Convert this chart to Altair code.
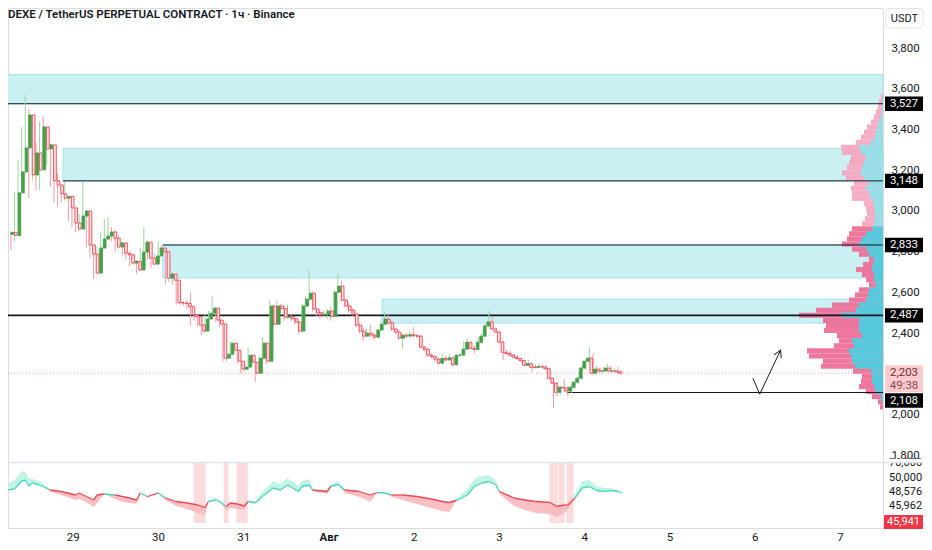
import altair as alt
import pandas as pd

TITLE = "DEXE / TetherUS PERPETUAL CONTRACT · 1ч · Binance"
CURRENCY = "USDT"
COUNTDOWN = "49:38"
FONT = "Roboto"

# hourly candles; index 0 = 28 Jul 07:00 (17 h before 29 Jul 00:00)
FIRST_OPEN = 2885
FIRST_HOUR = -17
closes = [2895, 2880, 3089, 3192, 3310, 3472, 3177, 3285, 3202, 3413,
          3305, 3325, 3148, 3128, 3084, 3063, 3072, 3015, 2941, 2911,
          2975, 3000, 2833, 2788, 2695, 2818, 2862, 2877, 2897, 2866,
          2823, 2843, 2793, 2785, 2744, 2752, 2710, 2798, 2847, 2769,
          2739, 2779, 2818, 2800, 2670, 2690, 2660, 2550, 2548, 2545,
          2530, 2490, 2480, 2440, 2410, 2469, 2498, 2523, 2464, 2444,
          2277, 2296, 2350, 2316, 2262, 2223, 2233, 2291, 2257, 2203,
          2277, 2350, 2262, 2533, 2444, 2533, 2520, 2478, 2482, 2470,
          2454, 2410, 2533, 2567, 2596, 2518, 2500, 2490, 2493, 2508,
          2483, 2601, 2631, 2562, 2533, 2513, 2493, 2439, 2410, 2385,
          2400, 2390, 2380, 2415, 2444, 2469, 2450, 2420, 2405, 2375,
          2390, 2385, 2392, 2387, 2385, 2331, 2320, 2292, 2285, 2272,
          2252, 2275, 2268, 2278, 2245, 2291, 2292, 2321, 2355, 2325,
          2320, 2355, 2385, 2435, 2455, 2420, 2405, 2356, 2306, 2300,
          2292, 2282, 2275, 2265, 2242, 2250, 2232, 2231, 2236, 2234,
          2225, 2178, 2154, 2109, 2134, 2130, 2115, 2134, 2159, 2178,
          2228, 2262, 2277, 2203, 2223, 2213, 2214, 2228, 2213, 2214,
          2210, 2203]
highs = [3138, 2900, 3095, 3250, 3413, 3571, 3500, 3300, 3335, 3440,
         3463, 3364, 3330, 3200, 3187, 3090, 3143, 3075, 3020, 2945,
         2985, 3143, 3005, 2840, 2795, 2825, 2900, 2960, 2970, 2920,
         2905, 2880, 2850, 2810, 2790, 2770, 2760, 2820, 2920, 2855,
         2775, 2790, 2850, 2835, 2810, 2700, 2700, 2670, 2560, 2555,
         2560, 2600, 2500, 2490, 2445, 2490, 2510, 2580, 2530, 2470,
         2450, 2310, 2360, 2352, 2320, 2265, 2245, 2330, 2295, 2260,
         2285, 2380, 2355, 2560, 2540, 2560, 2545, 2535, 2540, 2495,
         2480, 2460, 2545, 2580, 2710, 2605, 2525, 2510, 2510, 2520,
         2530, 2610, 2695, 2660, 2570, 2550, 2520, 2500, 2450, 2425,
         2420, 2440, 2400, 2420, 2460, 2503, 2490, 2460, 2425, 2415,
         2400, 2400, 2410, 2430, 2395, 2390, 2340, 2325, 2300, 2290,
         2280, 2300, 2290, 2300, 2285, 2300, 2300, 2360, 2375, 2360,
         2340, 2380, 2395, 2445, 2510, 2480, 2425, 2410, 2360, 2320,
         2310, 2300, 2290, 2280, 2270, 2270, 2255, 2245, 2250, 2245,
         2240, 2230, 2180, 2160, 2140, 2175, 2140, 2145, 2165, 2185,
         2240, 2265, 2331, 2300, 2240, 2230, 2235, 2250, 2240, 2225,
         2235, 2215]
lows = [2870, 2808, 2850, 3080, 3180, 3300, 3064, 3150, 3103, 3100,
        3290, 3226, 3120, 3040, 3020, 3040, 3050, 2950, 2920, 2895,
        2905, 2970, 2820, 2770, 2665, 2690, 2815, 2855, 2875, 2850,
        2800, 2815, 2780, 2760, 2730, 2735, 2690, 2705, 2790, 2760,
        2720, 2735, 2775, 2790, 2640, 2650, 2640, 2540, 2540, 2535,
        2520, 2440, 2460, 2430, 2390, 2400, 2460, 2490, 2455, 2430,
        2260, 2260, 2290, 2300, 2250, 2200, 2215, 2225, 2245, 2159,
        2200, 2270, 2250, 2255, 2430, 2440, 2500, 2460, 2470, 2460,
        2440, 2395, 2400, 2530, 2560, 2505, 2480, 2470, 2480, 2470,
        2460, 2480, 2595, 2555, 2525, 2500, 2485, 2430, 2400, 2360,
        2380, 2380, 2370, 2375, 2410, 2440, 2440, 2410, 2395, 2370,
        2326, 2375, 2380, 2380, 2375, 2325, 2310, 2285, 2275, 2260,
        2245, 2250, 2262, 2265, 2235, 2240, 2285, 2290, 2320, 2320,
        2300, 2315, 2350, 2380, 2430, 2415, 2400, 2350, 2267, 2295,
        2285, 2275, 2270, 2255, 2236, 2240, 2210, 2225, 2228, 2228,
        2220, 2170, 2031, 2090, 2100, 2110, 2090, 2105, 2125, 2150,
        2170, 2220, 2255, 2195, 2195, 2205, 2205, 2210, 2205, 2205,
        2200, 2195]

day_labels = ["29", "30", "31", "Авг", "2", "3", "4", "5", "6", "7"]

# supply / demand zones (hours from 29 Jul 00:00, prices)
zone_start = [-17.5, -1.5, 26.3, 87.3]
zone_low = [3527, 3148, 2671, 2449]
zone_high = [3670, 3308, 2833, 2567]

level_price = [3527, 3148, 2833, 2487, 2108]
level_start = [-17.5, -1.5, 26.3, -17.5, 138.7]

# drawn arrow
arrow_hour = [190.5, 192.4, 198.2]
arrow_price = [2178, 2100, 2316]

# volume profile rows (25 USDT bins starting at 2025)
vp_total = [3, 5, 11, 17, 24, 22, 21, 30, 62, 60, 74, 76, 49, 44, 46, 59, 57, 60,
            84, 67, 51, 34, 28, 24, 14, 17, 21, 27, 20, 14, 24, 31, 41, 36, 34, 31,
            21, 18, 16, 17, 19, 31, 31, 32, 29, 37, 41, 36, 34, 32, 41, 42, 27, 22,
            19, 16, 12, 9, 7, 5, 4, 2]
vp_up = [0, 1, 2, 7, 9, 11, 11, 12, 28, 31, 32, 34, 29, 31, 21, 24, 24, 24,
         41, 27, 24, 17, 15, 14, 7, 9, 9, 11, 10, 9, 14, 16, 24, 21, 17, 11,
         9, 8, 8, 9, 9, 12, 14, 17, 14, 19, 22, 21, 19, 17, 21, 24, 12, 8,
         7, 6, 4, 2, 1, 1, 1, 0]
VP_FIRST, VP_STEP, VALUE_AREA_TOP = 2025, 25, 2925

# lower indicator pane (candle index, line value, band edge value)
ind_idx = [0, 2, 4, 5, 6, 7, 9, 10, 12, 15, 19, 20, 22, 24, 25, 27, 30, 32, 34, 36,
           37, 39, 42, 44, 47, 50, 53, 55, 56, 58, 59, 61, 62, 64, 66, 67, 69, 71, 74, 76,
           78, 81, 82, 84, 85, 89, 90, 92, 94, 98, 101, 103, 105, 107, 110, 114, 118, 121, 123, 125,
           128, 130, 132, 134, 136, 137, 141, 144, 147, 151, 153, 155, 156, 158, 160, 162, 164, 166, 168, 170,
           171]
ind_val = [48800, 48900, 49700, 49800, 49200, 49500, 49300, 49150, 48800, 48650,
           48300, 48500, 48150, 47800, 48300, 48400, 48300, 48150, 48000, 47800,
           48500, 48150, 48500, 48000, 47650, 47500, 47300, 47050, 47650, 47800,
           47650, 47150, 47500, 47400, 47200, 47650, 47500, 48150, 49000, 48800,
           49300, 48650, 49150, 49300, 48800, 48650, 49150, 49350, 48800, 48650,
           48300, 48550, 48500, 48300, 48300, 48150, 47900, 47650, 47550, 47750,
           48300, 49150, 49500, 49650, 49300, 48650, 48000, 47800, 47650, 47550,
           47150, 47300, 47300, 48000, 49000, 49150, 48750, 48650, 48750, 48650,
           48500]
ind_band = [49300, 49800, 50700, 50600, 50000, 49900, 49700, 49400, 48600, 48300,
            47800, 47900, 47600, 47100, 47500, 48500, 47900, 47600, 47500, 47400,
            48600, 48000, 48600, 47800, 47200, 46900, 46500, 46300, 47800, 48000,
            47800, 46800, 47000, 46900, 46800, 47800, 47700, 48600, 49700, 49400,
            50000, 49200, 49700, 49900, 48700, 48400, 49300, 49700, 48500, 48100,
            47600, 48600, 48600, 48100, 47800, 47400, 47000, 46700, 46600, 47900,
            48900, 49900, 50200, 50300, 49700, 48400, 47200, 46800, 46500, 46400,
            46100, 46500, 46800, 48400, 49700, 49800, 49200, 49000, 49000, 48800,
            48400]
ind_side_labels = ["70,000", "50,000", "48,576", "45,962"]
ind_last_label = "45,941"

# highlighted columns in indicator pane (candle index ranges)
hl_start = [51.9, 60.2, 63.8, 150.9, 153.4, 155.6]
hl_end = [55.2, 61.6, 66.9, 153.2, 155.1, 157.6]

# ---------------------------------------------------------------- layout
W, H = 875, 520
RP = 41  # right padding for the price scale
X_DOM = [-16.8, 226.7]
P_DOM = [1766.6, 3997.5]
P_RANGE = [454, 0]
I_DOM = [45000, 51600]
I_RANGE = [520, 454]
LX = W + 21  # centre of the price-label boxes

def xs():
    return alt.Scale(domain=X_DOM, nice=False, zero=False)

def ps():
    return alt.Scale(domain=P_DOM, range=P_RANGE, nice=False, zero=False)

def iscale():
    return alt.Scale(domain=I_DOM, range=I_RANGE, nice=False, zero=False)

UP, DN = "#43a047", "#f0414f"

n = len(closes)
opens = [FIRST_OPEN] + closes[:-1]
candles = pd.DataFrame({
    "h": [FIRST_HOUR + k for k in range(n)],
    "open": opens,
    "close": closes,
    "high": [max(a, b, c) for a, b, c in zip(highs, opens, closes)],
    "low": [min(a, b, c) for a, b, c in zip(lows, opens, closes)],
})
IS_UP = "datum.close >= datum.open"

wicks = alt.Chart(candles).mark_rule(strokeWidth=1).encode(
    x=alt.X("h:Q", scale=xs(), axis=None),
    y=alt.Y("low:Q", scale=ps(), axis=None),
    y2="high:Q",
    color=alt.condition(IS_UP, alt.value("#9ed3a1"), alt.value("#f59aa3")),
)

label_expr = "[" + ",".join("'" + d + "'" for d in day_labels) + "][round(datum.value / 24)]"
bodies = alt.Chart(candles).mark_bar(size=2.7, strokeWidth=0.9).encode(
    x=alt.X("h:Q", scale=xs(), title=None, axis=alt.Axis(
        values=[24 * k for k in range(len(day_labels))], labelExpr=label_expr,
        domain=False, ticks=False, grid=False, labelPadding=3, labelFontSize=11.5,
        labelColor="#131722", labelFont=FONT,
        labelFontWeight={"condition": {"test": "datum.value == 72", "value": "bold"}, "value": "normal"})),
    y=alt.Y("open:Q", scale=ps(), title=None, axis=alt.Axis(
        orient="right", values=list(range(1800, 3801, 200)), format=",.0f",
        domain=False, ticks=False, grid=False, labelPadding=8, labelFontSize=11.5,
        labelColor="#131722", labelFont=FONT)),
    y2="close:Q",
    fill=alt.condition(IS_UP, alt.value(UP), alt.value("#fde6e8")),
    stroke=alt.condition(IS_UP, alt.value(UP), alt.value(DN)),
)

zones_df = pd.DataFrame({"s": zone_start, "lo": zone_low, "hi": zone_high})
zones_df["e"] = X_DOM[1]
zones = alt.Chart(zones_df).mark_rect(fill="#caf0f4", stroke="#a4e5ec", strokeWidth=1).encode(
    x=alt.X("s:Q", scale=xs(), axis=None), x2="e:Q",
    y=alt.Y("lo:Q", scale=ps(), axis=None), y2="hi:Q",
)

lv_df = pd.DataFrame({"s": level_start, "price": level_price})
lv_df["e"] = X_DOM[1]
levels = alt.Chart(lv_df).mark_rule(color="#131722").encode(
    x=alt.X("s:Q", scale=xs(), axis=None), x2="e:Q",
    y=alt.Y("price:Q", scale=ps(), axis=None),
    strokeWidth=alt.condition("datum.price == 2487", alt.value(1.8), alt.value(1)),
)

prof = pd.DataFrame({"plo": [VP_FIRST + VP_STEP * k for k in range(len(vp_total))],
                     "total": vp_total, "up": vp_up})
prof["phi"] = prof["plo"] + VP_STEP
prof["zero"] = 0
IN_VA = "datum.plo < %d" % VALUE_AREA_TOP
vs = alt.Scale(domain=[0, W], reverse=True, nice=False, zero=False)
prof_total = alt.Chart(prof).mark_rect(opacity=0.92).encode(
    x=alt.X("total:Q", scale=vs, axis=None), x2="zero:Q",
    y=alt.Y("plo:Q", scale=ps(), axis=None), y2="phi:Q",
    color=alt.condition(IN_VA, alt.value("#ee6b96"), alt.value("#f5a5be")),
)
prof_up = alt.Chart(prof).mark_rect(opacity=0.95).encode(
    x=alt.X("up:Q", scale=vs, axis=None), x2="zero:Q",
    y=alt.Y("plo:Q", scale=ps(), axis=None), y2="phi:Q",
    color=alt.condition(IN_VA, alt.value("#4ccfdf"), alt.value("#93e1ea")),
)

cur = pd.DataFrame({"price": [closes[-1]], "cd": [COUNTDOWN]})
cur_line = alt.Chart(cur).mark_rule(color="#f5a0a8", strokeDash=[1, 2], strokeWidth=1).encode(
    x=alt.value(0), x2=alt.value(W), y=alt.Y("price:Q", scale=ps(), axis=None))

arrow_df = pd.DataFrame({"h": arrow_hour, "p": arrow_price})
arrow_line = alt.Chart(arrow_df).mark_line(color="#131722", strokeWidth=1).encode(
    x=alt.X("h:Q", scale=xs(), axis=None), y=alt.Y("p:Q", scale=ps(), axis=None))
arrow_head = alt.Chart(arrow_df.tail(1)).mark_point(
    shape="M-0.45,0.8L0,0L0.45,0.8", size=300, filled=False, color="#131722",
    strokeWidth=1, angle=25, opacity=1).encode(
    x=alt.X("h:Q", scale=xs(), axis=None), y=alt.Y("p:Q", scale=ps(), axis=None))

# indicator pane
ind = pd.DataFrame({"h": [k + FIRST_HOUR for k in ind_idx], "v": ind_val, "b": ind_band})
hl = pd.DataFrame({"s": [k + FIRST_HOUR for k in hl_start], "e": [k + FIRST_HOUR for k in hl_end]})
hl_rects = alt.Chart(hl).mark_rect(color="#fbcfd2", opacity=0.75).encode(
    x=alt.X("s:Q", scale=xs(), axis=None), x2="e:Q", y=alt.value(455), y2=alt.value(515))
area_up = alt.Chart(ind).transform_calculate(top="max(datum.v, datum.b)").mark_area(
    color="#bff2e6", opacity=0.95).encode(
    x=alt.X("h:Q", scale=xs(), axis=None),
    y=alt.Y("v:Q", scale=iscale(), axis=None), y2="top:Q")
area_dn = alt.Chart(ind).transform_calculate(bot="min(datum.v, datum.b)").mark_area(
    color="#f8b9be", opacity=0.9).encode(
    x=alt.X("h:Q", scale=xs(), axis=None),
    y=alt.Y("v:Q", scale=iscale(), axis=None), y2="bot:Q")
ind_line = alt.Chart(ind).transform_window(
    v2="lead(v)", h2="lead(h)", sort=[alt.SortField("h")]
).transform_filter("isValid(datum.v2)").mark_rule(strokeWidth=1.3).encode(
    x=alt.X("h:Q", scale=xs(), axis=None), x2="h2:Q",
    y=alt.Y("v:Q", scale=iscale(), axis=None), y2="v2:Q",
    color=alt.condition("datum.b > datum.v", alt.value("#4ad8bd"), alt.value("#ef4451")),
)

side_df = pd.DataFrame({"t": ind_side_labels, "yy": [454.5, 470, 484, 498]})
side_txt = alt.Chart(side_df).mark_text(align="left", baseline="middle", fontSize=11, font=FONT,
                                        color="#131722").encode(
    x=alt.value(W + 6), y=alt.Y("yy:Q", scale=None), text="t:N")
cover = alt.Chart(pd.DataFrame({"a": [0]})).mark_rect(color="white").encode(
    x=alt.value(W + 1), x2=alt.value(W + RP), y=alt.value(450.8), y2=alt.value(454.5))
sep = alt.Chart(pd.DataFrame({"a": [0]})).mark_rule(color="#e0e3eb", strokeWidth=1.5).encode(
    x=alt.value(0), x2=alt.value(W + RP), y=alt.value(454.5))
last_box = alt.Chart(pd.DataFrame({"a": [0]})).mark_rect(color="#f23645").encode(
    x=alt.value(W + 1), x2=alt.value(W + 40), y=alt.value(507), y2=alt.value(521))
last_txt = alt.Chart(pd.DataFrame({"t": [ind_last_label]})).mark_text(
    align="center", baseline="middle", fontSize=11, font=FONT, color="white").encode(
    x=alt.value(W + 20.5), y=alt.value(514), text="t:N")

# price labels on the axis
BOX = "M-1,-0.38L1,-0.38L1,0.38L-1,0.38Z"
lab_df = pd.DataFrame({"price": level_price[:4]})
low_df = pd.DataFrame({"price": level_price[4:]})
box_kw = dict(shape=BOX, size=1444, filled=True, color="#000000", opacity=1, strokeWidth=0)
boxes = alt.Chart(lab_df).mark_point(**box_kw).encode(
    x=alt.value(LX), y=alt.Y("price:Q", scale=ps(), axis=None))
box_txt = alt.Chart(lab_df).mark_text(fontSize=11.5, font=FONT, color="white", baseline="middle").encode(
    x=alt.value(LX), y=alt.Y("price:Q", scale=ps(), axis=None), text=alt.Text("price:Q", format=","))
box_low = alt.Chart(low_df).mark_point(yOffset=8, **box_kw).encode(
    x=alt.value(LX), y=alt.Y("price:Q", scale=ps(), axis=None))
box_low_txt = alt.Chart(low_df).mark_text(yOffset=8, fontSize=11.5, font=FONT, color="white",
                                          baseline="middle").encode(
    x=alt.value(LX), y=alt.Y("price:Q", scale=ps(), axis=None), text=alt.Text("price:Q", format=","))
cur_box = alt.Chart(cur).mark_point(shape="M-1,-0.42L1,-0.42L1,1.0L-1,1.0Z", size=1444, filled=True,
                                    color="#fccbcf", opacity=1, strokeWidth=0).encode(
    x=alt.value(LX), y=alt.Y("price:Q", scale=ps(), axis=None))
cur_txt = alt.Chart(cur).mark_text(fontSize=11.5, font=FONT, color="#6b2b36", baseline="middle").encode(
    x=alt.value(LX), y=alt.Y("price:Q", scale=ps(), axis=None), text=alt.Text("price:Q", format=","))
cur_cd = alt.Chart(cur).mark_text(fontSize=11.5, font=FONT, color="#8a4650", baseline="middle", yOffset=13).encode(
    x=alt.value(LX), y=alt.Y("price:Q", scale=ps(), axis=None), text="cd:N")

title = alt.Chart(pd.DataFrame({"t": [TITLE]})).mark_text(
    align="left", baseline="middle", fontSize=11.5, fontWeight=600, font=FONT, color="#131722").encode(
    x=alt.value(0), y=alt.value(7), text="t:N")
usdt_box = alt.Chart(pd.DataFrame({"a": [0]})).mark_rect(
    fill="white", stroke="#e0e3eb", strokeWidth=1, cornerRadius=3).encode(
    x=alt.value(W + 3), x2=alt.value(W + 40), y=alt.value(0.5), y2=alt.value(20))
usdt_txt = alt.Chart(pd.DataFrame({"t": [CURRENCY]})).mark_text(
    fontSize=11, font=FONT, color="#131722", baseline="middle").encode(
    x=alt.value(W + 21.5), y=alt.value(10.5), text="t:N")

chart = alt.layer(
    zones, prof_total, prof_up, levels, cur_line, wicks, bodies, arrow_line, arrow_head,
    hl_rects, area_up, area_dn, ind_line,
    side_txt, cover, sep, last_box, last_txt,
    boxes, box_txt, box_low, box_low_txt, cur_box, cur_txt, cur_cd,
    title, usdt_box, usdt_txt,
).resolve_scale(x="independent", y="independent").properties(
    width=W, height=H,
    padding={"left": 0, "top": 0, "right": RP, "bottom": 14},
    autosize=alt.AutoSizeParams(type="none"),
).configure_view(strokeWidth=0).configure(background="white")

chart.save("out.html", embed_options={"renderer": "svg", "actions": False})
